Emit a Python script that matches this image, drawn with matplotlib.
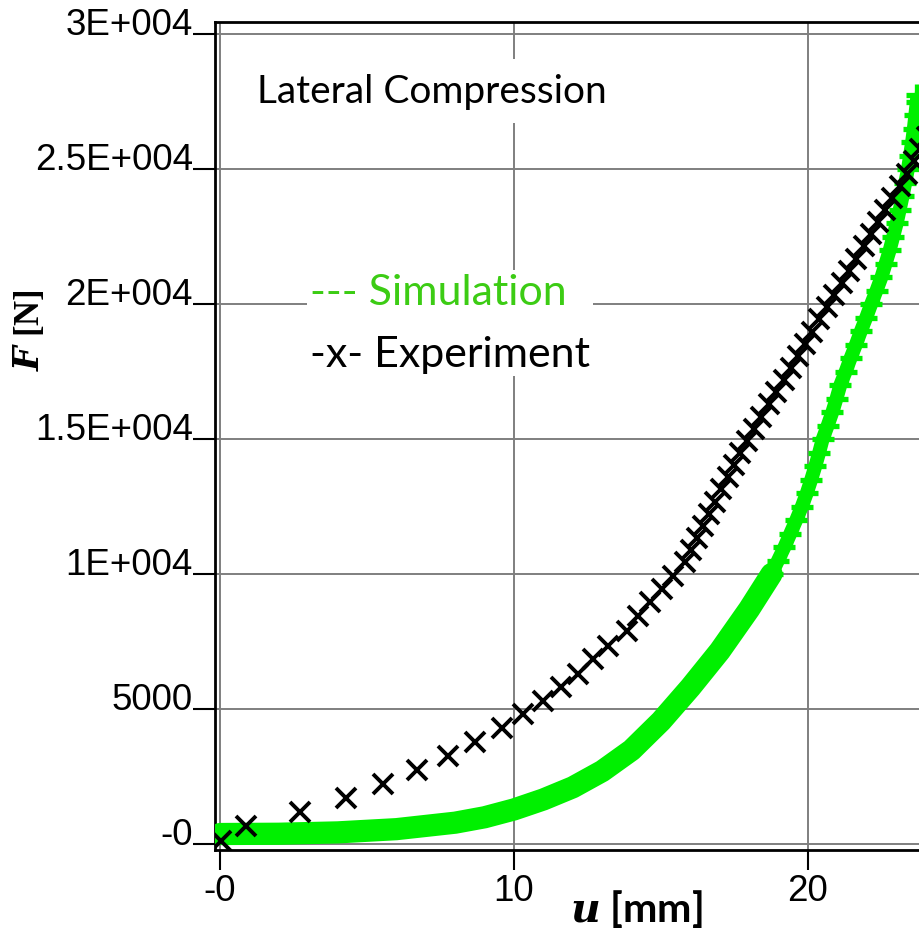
import matplotlib
matplotlib.use('Agg')
import matplotlib.pyplot as plt
from matplotlib.offsetbox import TextArea, VPacker, AnchoredOffsetbox

# experiment: displacement u [mm] and force F [N]
exp_u = [0.02, 0.88, 2.72, 4.29, 5.54, 6.70, 7.76, 8.67, 9.59, 10.31,
         11.00, 11.60, 12.19, 12.70, 13.20, 13.83, 14.23, 14.63, 15.02, 15.42,
         15.80, 16.01, 16.21, 16.42, 16.63, 16.84, 17.05, 17.27, 17.48, 17.70,
         17.92, 18.16, 18.41, 18.67, 18.92, 19.17, 19.42, 19.66, 19.91, 20.15,
         20.39, 20.64, 20.88, 21.14, 21.39, 21.64, 21.89, 22.14, 22.39, 22.63,
         22.87, 23.12, 23.36, 23.59, 23.82, 24.04]
exp_f = [120, 667, 1185, 1700, 2220, 2740, 3260, 3780, 4300, 4810,
         5310, 5800, 6300, 6850, 7340, 7900, 8455, 8950, 9440, 9940,
         10430, 10880, 11330, 11780, 12230, 12680, 13130, 13580, 14030, 14480,
         14930, 15380, 15830, 16280, 16730, 17180, 17630, 18080, 18530, 18980,
         19430, 19880, 20330, 20780, 21230, 21680, 22130, 22580, 23030, 23480,
         23930, 24380, 24830, 25280, 25730, 26180]

# simulation, soft part (dense band in the picture)
sim_u_soft = [0, 2, 4, 6, 8, 9, 10, 11, 12, 13, 14, 15, 16, 17, 18, 18.76]
sim_f_soft = [370, 380, 430, 550, 790, 990, 1280, 1650, 2100, 2700, 3480, 4550,
              5800, 7150, 8700, 10000]
# simulation, stiff part (single markers visible)
sim_u_stiff = [18.76, 18.98, 19.20, 19.40, 19.60, 19.79, 19.96, 20.11, 20.25, 20.38,
               20.50, 20.67, 20.83, 20.97, 21.10, 21.28, 21.45, 21.63, 21.80, 21.98,
               22.15, 22.33, 22.50, 22.64, 22.78, 22.90, 23.02, 23.12, 23.22, 23.31,
               23.40, 23.47, 23.54, 23.60, 23.65, 23.70, 23.72]
sim_f_stiff = [10000, 10500, 11000, 11500, 12000, 12500, 13000, 13500, 14000, 14500,
               15000, 15500, 16000, 16500, 17000, 17500, 18000, 18500, 19000, 19500,
               20000, 20500, 21000, 21500, 22000, 22500, 23000, 23500, 24000, 24500,
               25000, 25500, 26000, 26500, 27000, 27500, 27750]

x_ticks = [0, 10, 20]
x_tick_labels = ['-0', '10', '20']
y_ticks = [0, 5000, 10000, 15000, 20000, 25000, 30000]
y_tick_labels = ['-0', '5000', '1E+004', '1.5E+004', '2E+004', '2.5E+004', '3E+004']

plt.rcParams['mathtext.fontset'] = 'dejavuserif'

W, H = 919, 929
fig = plt.figure(figsize=(W / 100, H / 100), dpi=100)
# axes box in pixels, right side runs off the picture
ax = fig.add_axes([215 / W, (H - 851) / H, 760 / W, 828 / H])
px_mm = 29.4
px_n = 0.027
ax.set_xlim(-5 / px_mm, 755 / px_mm)
ax.set_ylim(-6 / px_n, 822 / px_n)

green = '#00f000'
ax.plot(sim_u_soft, sim_f_soft, color=green, lw=16, solid_capstyle='round', zorder=3)
ax.plot(sim_u_stiff, sim_f_stiff, color=green, lw=10, marker='+', ms=16, mew=3.8,
        solid_capstyle='butt', zorder=3)
ax.plot(exp_u, exp_f, ls='none', marker='x', color='black', ms=14, mew=2.8, zorder=4)

ax.set_xticks(x_ticks)
ax.set_xticklabels(x_tick_labels)
ax.set_yticks(y_ticks)
ax.set_yticklabels(y_tick_labels)
ax.tick_params(axis='y', length=16, width=1.5, pad=0, labelsize=26.5)
ax.tick_params(axis='x', length=14.5, width=1.5, pad=2, labelsize=26.5)
for lab in ax.get_yticklabels() + ax.get_xticklabels():
    lab.set_fontfamily('Liberation Sans')
for lab in ax.get_yticklabels():
    lab.set_verticalalignment('baseline')

ax.grid(True, color='#7f7f7f', lw=1.4)
ax.set_axisbelow(True)
for side in ['left', 'bottom', 'top']:
    ax.spines[side].set_linewidth(2)
    ax.spines[side].set_color('black')

fig.text(257 / W, 1 - 103 / H, 'Lateral Compression', fontfamily='Lato', fontsize=28,
         ha='left', va='baseline',
         bbox=dict(facecolor='white', edgecolor='none', pad=10))

leg = VPacker(children=[
    TextArea('--- Simulation', textprops=dict(color='#3ccc14', fontfamily='Lato', fontsize=31)),
    TextArea('-x- Experiment', textprops=dict(color='black', fontfamily='Lato', fontsize=31)),
], align='left', pad=0, sep=17)
box = AnchoredOffsetbox(loc='center', child=leg, pad=0.25, frameon=True,
                        bbox_to_anchor=(450 / W, 1 - 324 / H),
                        bbox_transform=fig.transFigure, borderpad=0)
box.patch.set_facecolor('white')
box.patch.set_edgecolor('none')
ax.add_artist(box)

fig.text(636 / W, 1 - 922 / H, r'$\mathbfit{u}$ [mm]', fontfamily='Lato', fontweight='bold',
         fontsize=29.5, ha='center', va='baseline')
fig.text(30 / W, 1 - 330 / H, r'$\mathbfit{F}$ [N]', fontfamily='Liberation Serif',
         fontweight='bold', fontsize=25, rotation=90, ha='center', va='center')

fig.savefig('out.png', dpi=100)
